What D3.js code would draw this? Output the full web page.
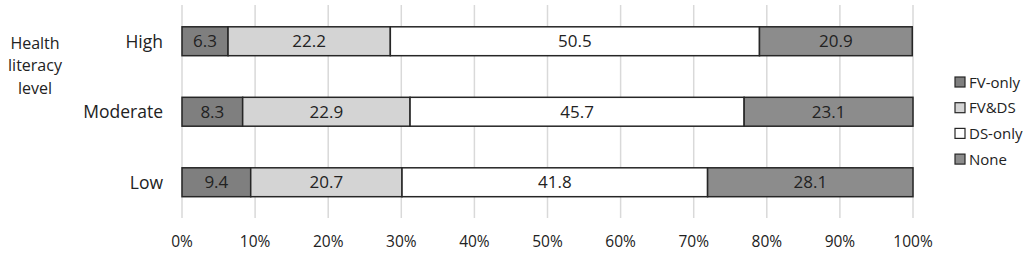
<!DOCTYPE html>
<html>
<head>
<meta charset="utf-8">
<script src="https://cdn.jsdelivr.net/npm/d3@7"></script>
<style>
body { margin: 0; background: #fff; }
text { font-family: "Open Sans", "Noto Sans", sans-serif; fill: #222; }
</style>
</head>
<body>
<script>
let levels = ["High", "Moderate", "Low"];
let groups = ["FV-only", "FV&DS", "DS-only", "None"];
let fvOnly = [6.3, 8.3, 9.4];
let fvDs = [22.2, 22.9, 20.7];
let dsOnly = [50.5, 45.7, 41.8];
let none = [20.9, 23.1, 28.1];
let tickValues = [0, 10, 20, 30, 40, 50, 60, 70, 80, 90, 100];

let colors = ["#7f7f7f", "#d4d4d4", "#ffffff", "#8c8c8c"];
let series = [fvOnly, fvDs, dsOnly, none];

let svg = d3.select("body").append("svg")
	.attr("width", 1029)
	.attr("height", 253);

let x = d3.scaleLinear().domain([0, 100]).range([182, 913]);
let y = d3.scaleBand().domain(levels).range([6, 217.5]).paddingInner(0.59).paddingOuter(0.295);

// gridlines
svg.append("g").selectAll("line")
	.data(tickValues)
	.enter().append("line")
	.attr("x1", d => x(d)).attr("x2", d => x(d))
	.attr("y1", 5).attr("y2", 218)
	.attr("stroke", "#d9d9d9")
	.attr("stroke-width", 1.5);

// tick labels
svg.append("g").selectAll("text")
	.data(tickValues)
	.enter().append("text")
	.attr("x", d => x(d))
	.attr("y", 247)
	.attr("text-anchor", "middle")
	.attr("font-size", 15.5)
	.text(d => d + "%");

// stacked bars
levels.forEach((lv, i) => {
	let start = 0;
	series.forEach((s, j) => {
		let v = s[i];
		svg.append("rect")
			.attr("x", x(start))
			.attr("y", y(lv))
			.attr("width", x(start + v) - x(start))
			.attr("height", y.bandwidth())
			.attr("fill", colors[j])
			.attr("stroke", "#262626")
			.attr("stroke-width", 1.5);
		svg.append("text")
			.attr("x", x(start + v / 2))
			.attr("y", y(lv) + y.bandwidth() / 2 + 6)
			.attr("text-anchor", "middle")
			.attr("font-size", 17)
			.text(v.toFixed(1));
		start += v;
	});
	// category label
	svg.append("text")
		.attr("x", 163)
		.attr("y", y(lv) + y.bandwidth() / 2 + 6.5)
		.attr("text-anchor", "end")
		.attr("font-size", 17.5)
		.text(lv);
});

// axis title
["Health", "literacy", "level"].forEach((t, i) => {
	svg.append("text")
		.attr("x", 35)
		.attr("y", 48.5 + i * 22.5)
		.attr("text-anchor", "middle")
		.attr("font-size", 16)
		.text(t);
});

// legend
groups.forEach((g, i) => {
	let ly = 82 + i * 25.7;
	svg.append("rect")
		.attr("x", 955)
		.attr("y", ly - 5)
		.attr("width", 10)
		.attr("height", 10)
		.attr("fill", colors[i])
		.attr("stroke", "#262626")
		.attr("stroke-width", 1.2);
	svg.append("text")
		.attr("x", 969)
		.attr("y", ly + 5.5)
		.attr("font-size", 15)
		.text(g);
});
</script>
</body>
</html>
